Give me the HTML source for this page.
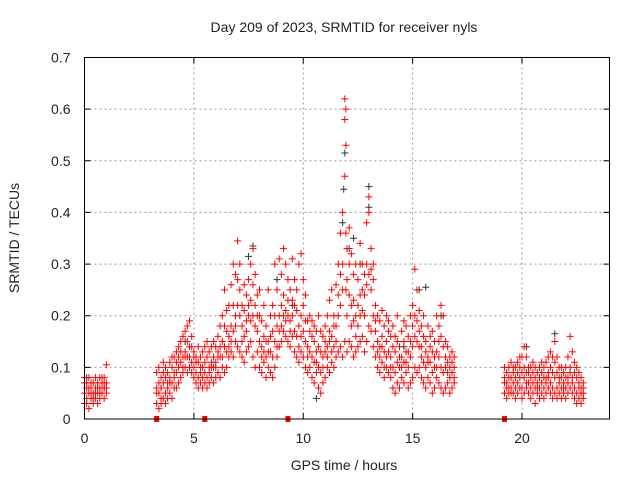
<!DOCTYPE html>
<html><head><meta charset="utf-8"><style>
body{margin:0;background:#fff}
svg text{font-family:"Liberation Sans",sans-serif;fill:#222}
</style></head><body>
<svg id="c" width="640" height="480" xmlns="http://www.w3.org/2000/svg"></svg>
<script>
const xTicks=[0,5,10,15,20];
const yTicks=[0,0.1,0.2,0.3,0.4,0.5,0.6,0.7];
const yTickLabels=["0","0.1","0.2","0.3","0.4","0.5","0.6","0.7"];
const gapTimes=[3.3,5.5,9.3,19.2];
const redRows=[
[0.0,.03,.05,.07,.08],[0.1,.04,.06,.07,.03],[0.2,.02,.05,.06,.08],[0.3,.04,.06,.07,.05],[0.4,.03,.05,.07,.04],[0.5,.04,.06,.08,.05],[0.6,.03,.05,.06,.07],[0.7,.04,.06,.08,.05],[0.8,.05,.06,.07,.08],[0.9,.04,.06,.08,.07],[1.0,.06,.07,.105,.05],
[3.3,.03,.06,.09,.05],[3.4,.02,.05,.07,.1],[3.5,.03,.06,.08,.04],[3.6,.04,.07,.09,.11],[3.7,.03,.05,.08,.1],[3.8,.04,.07,.09,.06],[3.9,.05,.08,.11,.07],[4.0,.04,.07,.1,.12],[4.1,.06,.09,.12,.08],[4.2,.06,.09,.13,.11],[4.3,.07,.1,.14,.12],[4.4,.08,.11,.15,.13],[4.5,.09,.12,.16,.1],[4.6,.1,.13,.17,.12],[4.7,.09,.12,.15,.18],[4.8,.1,.14,.19,.12],[4.9,.09,.11,.14,.16],
[5.0,.08,.1,.13,.12],[5.1,.07,.09,.12,.11],[5.2,.06,.08,.11,.14],[5.3,.07,.09,.12,.1],[5.4,.06,.08,.1,.13],[5.5,.07,.09,.11,.14],[5.6,.06,.08,.12,.15],[5.7,.07,.1,.13,.09],[5.8,.08,.11,.14,.1],[5.9,.07,.1,.12,.15],
[6.0,.08,.11,.14,.1],[6.1,.09,.12,.16,.13],[6.2,.08,.12,.18,.14],[6.3,.1,.15,.2,.12],[6.4,.09,.14,.25,.18],[6.5,.1,.13,.17,.21],[6.6,.12,.16,.22,.14],[6.7,.13,.18,.26,.15],[6.8,.12,.17,.22,.3],[6.9,.15,.2,.28,.18],
[7.0,.14,.22,.345,.27],[7.1,.13,.2,.25,.3],[7.2,.12,.18,.22,.15],[7.3,.11,.16,.21,.26],[7.4,.13,.19,.24,.17],[7.5,.14,.2,.27,.22],[7.6,.15,.23,.3,.19],[7.7,.12,.2,.33,.26],[7.8,.1,.18,.28,.22],[7.9,.13,.17,.24,.2],
[8.0,.1,.15,.2,.25],[8.1,.09,.14,.19,.12],[8.2,.11,.16,.22,.13],[8.3,.08,.12,.18,.15],[8.4,.1,.15,.25,.13],[8.5,.09,.13,.2,.16],[8.6,.08,.12,.17,.22],[8.7,.1,.15,.3,.2],[8.8,.12,.18,.25,.14],[8.9,.14,.2,.31,.17],
[9.0,.15,.22,.28,.18],[9.1,.17,.24,.33,.2],[9.2,.16,.21,.3,.19],[9.3,.15,.2,.27,.23],[9.4,.14,.19,.25,.17],[9.5,.16,.23,.31,.2],[9.6,.13,.17,.22,.27],[9.7,.12,.16,.21,.25],[9.8,.11,.18,.3,.14],[9.9,.13,.2,.32,.16],
[10.0,.12,.17,.27,.22],[10.1,.1,.15,.24,.19],[10.2,.09,.14,.19,.12],[10.3,.1,.13,.17,.2],[10.4,.08,.12,.16,.19],[10.5,.07,.11,.15,.18],[10.6,.09,.13,.17,.11],[10.7,.06,.1,.14,.2],[10.8,.05,.09,.13,.17],[10.9,.07,.12,.16,.1],
[11.0,.08,.13,.18,.15],[11.1,.1,.14,.2,.12],[11.2,.09,.15,.23,.17],[11.3,.11,.16,.25,.13],[11.4,.1,.14,.2,.18],[11.5,.12,.18,.26,.15],[11.6,.13,.2,.3,.24],[11.7,.14,.22,.36,.28],[11.8,.12,.25,.4,.3],[11.9,.15,.62,.58,.47],[11.95,.6,.53,.36,.25],
[12.0,.13,.2,.33,.27],[12.1,.15,.24,.37,.3],[12.2,.14,.22,.32,.18],[12.3,.12,.19,.28,.23],[12.4,.13,.2,.3,.16],[12.5,.14,.22,.27,.18],[12.6,.15,.24,.34,.2],[12.7,.16,.25,.3,.21],[12.8,.13,.2,.28,.24],[12.9,.15,.26,.38,.3],
[13.0,.18,.28,.43,.4],[13.1,.17,.25,.33,.29],[13.2,.14,.2,.27,.3],[13.3,.12,.17,.22,.19],[13.4,.1,.15,.2,.13],[13.5,.09,.14,.19,.12],[13.6,.11,.16,.21,.14],[13.7,.08,.13,.18,.1],[13.8,.1,.15,.2,.12],[13.9,.09,.13,.17,.19],
[14.0,.08,.12,.16,.1],[14.1,.06,.1,.14,.18],[14.2,.05,.09,.13,.16],[14.3,.07,.11,.15,.2],[14.4,.06,.1,.14,.12],[14.5,.08,.12,.17,.1],[14.6,.07,.11,.15,.19],[14.7,.09,.13,.18,.11],[14.8,.06,.1,.16,.13],[14.9,.07,.12,.2,.15],
[15.0,.08,.14,.22,.18],[15.1,.1,.16,.29,.2],[15.2,.09,.15,.25,.19],[15.3,.1,.14,.21,.17],[15.4,.08,.12,.18,.14],[15.5,.07,.11,.16,.2],[15.6,.06,.1,.15,.13],[15.7,.08,.12,.18,.11],[15.8,.07,.11,.16,.14],[15.9,.05,.09,.13,.17],
[16.0,.06,.1,.15,.12],[16.1,.08,.13,.2,.1],[16.2,.07,.12,.18,.15],[16.3,.06,.1,.16,.22],[16.4,.05,.09,.14,.2],[16.5,.06,.1,.15,.12],[16.6,.07,.11,.14,.09],[16.7,.05,.08,.12,.1],[16.8,.06,.09,.13,.11],[16.9,.07,.1,.12,.08],
[19.2,.05,.07,.1,.08],[19.3,.04,.06,.09,.07],[19.4,.05,.08,.1,.06],[19.5,.06,.08,.11,.05],[19.6,.05,.07,.09,.1],[19.7,.04,.06,.08,.1],[19.8,.05,.07,.09,.11],[19.9,.06,.08,.1,.12],
[20.0,.04,.06,.09,.12],[20.1,.05,.1,.14,.08],[20.2,.06,.09,.12,.07],[20.3,.05,.07,.1,.09],[20.4,.04,.06,.08,.1],[20.5,.05,.07,.09,.11],[20.6,.03,.06,.08,.1],[20.7,.05,.07,.09,.06],[20.8,.04,.06,.1,.08],[20.9,.05,.07,.09,.11],
[21.0,.04,.06,.08,.1],[21.1,.05,.08,.11,.07],[21.2,.06,.09,.12,.08],[21.3,.05,.07,.1,.13],[21.4,.04,.06,.09,.12],[21.5,.05,.08,.11,.15],[21.6,.04,.06,.09,.12],[21.7,.05,.07,.1,.08],[21.8,.04,.06,.08,.1],[21.9,.05,.07,.09,.06],
[22.0,.04,.06,.08,.1],[22.1,.05,.08,.12,.07],[22.2,.06,.1,.16,.09],[22.3,.05,.08,.13,.07],[22.4,.04,.06,.09,.11],[22.5,.03,.05,.08,.1],[22.6,.04,.06,.09,.07],[22.7,.03,.05,.08,.06],[22.8,.04,.06,.07,.05]
];
const grayTimes=[11.9,11.85,13.0,13.0,7.7,7.5,12.1,11.8,12.3,15.3,15.6,16.3,4.6,5.6,10.6,13.4,21.5,20.2,0.1,0.9,9.5,12.6,14.6,3.5,8.8];
const grayVals=[.515,.445,.45,.41,.335,.315,.33,.38,.35,.25,.255,.2,.15,.15,.04,.15,.165,.14,.08,.06,.22,.3,.14,.06,.27];

const L=84.5,R=609.5,T=57.5,B=419;
const X=t=>L+(t/24)*(R-L);
const Y=v=>B-(v/0.7)*(B-T);
const svg=document.getElementById('c');
const NS="http://www.w3.org/2000/svg";
function mk(tag,attrs){const e=document.createElementNS(NS,tag);for(const k in attrs)e.setAttribute(k,attrs[k]);svg.appendChild(e);return e;}

// grid
xTicks.forEach(t=>{if(t>0){const g=mk('line',{x1:X(t),x2:X(t),y1:T,y2:B,stroke:'#999','stroke-dasharray':'2,3'});

}});
yTicks.forEach(v=>{if(v>0&&v<0.7){const g=mk('line',{x1:L,x2:R,y1:Y(v),y2:Y(v),stroke:'#999','stroke-dasharray':'2,3'});

}});

function plus(t,v,col,name){const x=X(t),y=Y(v);const p=mk('path',{d:`M${x-3.5},${y}h7M${x},${y-3.5}v7`,stroke:col,'stroke-width':1});

}
grayTimes.forEach((t,i)=>plus(t,grayVals[i],'#333','gray-point'));
redRows.forEach(r=>{for(let i=1;i<r.length;i++)plus(r[0],r[i],'#f00','red-point');});
gapTimes.forEach(t=>{const s=mk('rect',{x:X(t)-2.5,y:B-3,width:5,height:6,fill:'#f00'});

});

// frame
const f=mk('rect',{x:L,y:T,width:R-L,height:B-T,fill:'none',stroke:'#000','stroke-width':1});


xTicks.forEach(t=>{const k=mk('path',{d:`M${X(t)},${B}v-6M${X(t)},${T}v6`,stroke:'#000'});


const tx=mk('text',{x:X(t),y:B+24,'text-anchor':'middle','font-size':14});tx.textContent=t;

});
yTicks.forEach((v,i)=>{const k=mk('path',{d:`M${L},${Y(v)}h6M${R},${Y(v)}h-6`,stroke:'#000'});


const tx=mk('text',{x:L-14,y:Y(v)+5,'text-anchor':'end','font-size':14});tx.textContent=yTickLabels[i];

});

const ti=mk('text',{x:344,y:32,'text-anchor':'middle','font-size':14});ti.textContent='Day 209 of 2023, SRMTID for receiver nyls';


const xl=mk('text',{x:344,y:470,'text-anchor':'middle','font-size':14});xl.textContent='GPS time / hours';


const yl=mk('text',{x:0,y:0,'text-anchor':'middle','font-size':14,transform:'translate(19,238) rotate(-90)'});yl.textContent='SRMTID / TECUs';


</script>
</body></html>
